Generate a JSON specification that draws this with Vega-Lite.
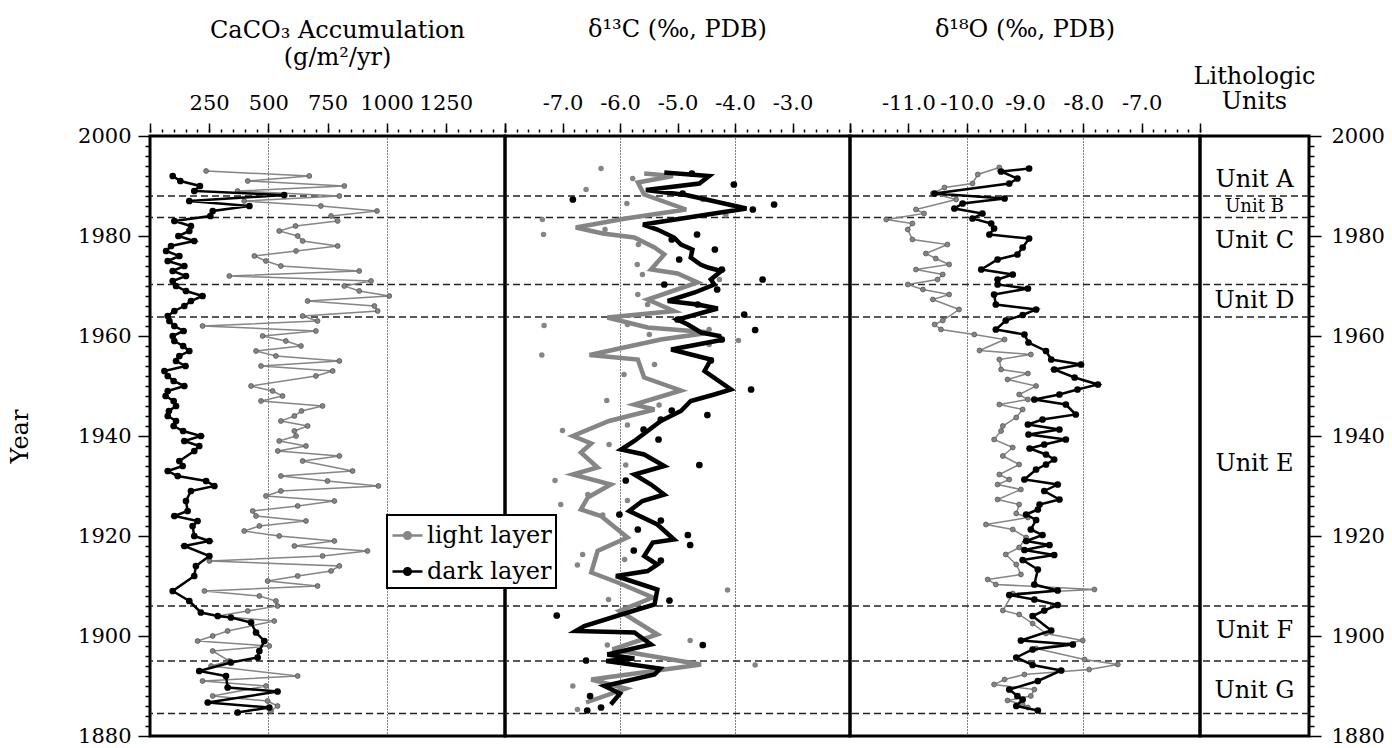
{
  "$schema": "https://vega.github.io/schema/vega-lite/v6.json",
  "padding": {"left": 7, "top": 16, "right": 0, "bottom": 0},
  "spacing": 0,
  "bounds": "flush",
  "background": "white",
  "config": {
    "font": "DejaVu Serif",
    "view": {"stroke": "black", "strokeWidth": 3},
    "axis": {"domain": false, "labelFont": "DejaVu Serif", "labelFontSize": 21, "labelColor": "black", "tickColor": "black", "tickWidth": 1.5, "titleFont": "DejaVu Serif", "titleFontSize": 24, "titleFontWeight": "normal", "titleColor": "black", "labelOverlap": false, "labelBound": false, "labelFlush": false},
    "title": {"font": "DejaVu Serif", "fontSize": 24, "fontWeight": "normal", "color": "black", "anchor": "middle", "frame": "group"},
    "legend": {"fillColor": "white", "strokeColor": "black", "strokeWidth": 2, "padding": 4, "labelFont": "DejaVu Serif", "labelFontSize": 24, "labelColor": "black", "symbolType": "M-1,0L1,0M0.22,0A0.22,0.22,0,1,1,-0.22,0A0.22,0.22,0,1,1,0.22,0Z", "symbolSize": 900, "symbolStrokeWidth": 2.5, "rowPadding": 7, "labelOffset": 3}
  },
  "resolve": {"scale": {"color": "shared"}, "legend": {"color": "shared"}},
  "datasets": {
    "bounds": [{"year": 1988}, {"year": 1983.7}, {"year": 1970.3}, {"year": 1963.8}, {"year": 1906}, {"year": 1895}, {"year": 1884.5}],
    "units": [{"unit": "Unit A", "year": 1991.3}, {"unit": "Unit B", "year": 1985.8}, {"unit": "Unit C", "year": 1979}, {"unit": "Unit D", "year": 1967}, {"unit": "Unit E", "year": 1934.5}, {"unit": "Unit F", "year": 1901}, {"unit": "Unit G", "year": 1889}],
    "caco3": [
      {"year": 1993, "value": 237, "layer": "light layer"}, {"year": 1992, "value": 673, "layer": "light layer"}, {"year": 1991, "value": 413, "layer": "light layer"}, {"year": 1990, "value": 821, "layer": "light layer"}, {"year": 1989, "value": 370, "layer": "light layer"}, {"year": 1988, "value": 800, "layer": "light layer"}, {"year": 1987, "value": 398, "layer": "light layer"}, {"year": 1986, "value": 722, "layer": "light layer"}, {"year": 1985, "value": 959, "layer": "light layer"}, {"year": 1984, "value": 765, "layer": "light layer"}, {"year": 1983, "value": 793, "layer": "light layer"}, {"year": 1982, "value": 615, "layer": "light layer"}, {"year": 1981, "value": 546, "layer": "light layer"}, {"year": 1980, "value": 624, "layer": "light layer"}, {"year": 1979, "value": 645, "layer": "light layer"}, {"year": 1978, "value": 793, "layer": "light layer"}, {"year": 1977, "value": 617, "layer": "light layer"}, {"year": 1976, "value": 441, "layer": "light layer"}, {"year": 1975, "value": 490, "layer": "light layer"}, {"year": 1974, "value": 553, "layer": "light layer"}, {"year": 1973, "value": 884, "layer": "light layer"}, {"year": 1972, "value": 335, "layer": "light layer"}, {"year": 1971, "value": 934, "layer": "light layer"}, {"year": 1970, "value": 821, "layer": "light layer"}, {"year": 1969, "value": 884, "layer": "light layer"}, {"year": 1968, "value": 1011, "layer": "light layer"}, {"year": 1967, "value": 666, "layer": "light layer"}, {"year": 1966, "value": 948, "layer": "light layer"}, {"year": 1965, "value": 962, "layer": "light layer"}, {"year": 1964, "value": 645, "layer": "light layer"}, {"year": 1963, "value": 708, "layer": "light layer"}, {"year": 1962, "value": 222, "layer": "light layer"}, {"year": 1961, "value": 701, "layer": "light layer"}, {"year": 1960, "value": 476, "layer": "light layer"}, {"year": 1959, "value": 574, "layer": "light layer"}, {"year": 1958, "value": 638, "layer": "light layer"}, {"year": 1957, "value": 448, "layer": "light layer"}, {"year": 1956, "value": 532, "layer": "light layer"}, {"year": 1955, "value": 800, "layer": "light layer"}, {"year": 1954, "value": 469, "layer": "light layer"}, {"year": 1953, "value": 772, "layer": "light layer"}, {"year": 1952, "value": 701, "layer": "light layer"}, {"year": 1950, "value": 427, "layer": "light layer"}, {"year": 1949, "value": 518, "layer": "light layer"}, {"year": 1948, "value": 560, "layer": "light layer"}, {"year": 1947, "value": 469, "layer": "light layer"}, {"year": 1946, "value": 729, "layer": "light layer"}, {"year": 1945, "value": 640, "layer": "light layer"}, {"year": 1944, "value": 610, "layer": "light layer"}, {"year": 1943, "value": 553, "layer": "light layer"}, {"year": 1942, "value": 666, "layer": "light layer"}, {"year": 1941, "value": 610, "layer": "light layer"}, {"year": 1940, "value": 617, "layer": "light layer"}, {"year": 1939, "value": 546, "layer": "light layer"}, {"year": 1938, "value": 659, "layer": "light layer"}, {"year": 1937, "value": 540, "layer": "light layer"}, {"year": 1936, "value": 800, "layer": "light layer"}, {"year": 1935, "value": 645, "layer": "light layer"}, {"year": 1933, "value": 856, "layer": "light layer"}, {"year": 1932, "value": 553, "layer": "light layer"}, {"year": 1931, "value": 750, "layer": "light layer"}, {"year": 1930, "value": 965, "layer": "light layer"}, {"year": 1929, "value": 553, "layer": "light layer"}, {"year": 1928, "value": 490, "layer": "light layer"}, {"year": 1927, "value": 779, "layer": "light layer"}, {"year": 1926, "value": 624, "layer": "light layer"}, {"year": 1925, "value": 434, "layer": "light layer"}, {"year": 1924, "value": 448, "layer": "light layer"}, {"year": 1923, "value": 659, "layer": "light layer"}, {"year": 1922, "value": 462, "layer": "light layer"}, {"year": 1921, "value": 398, "layer": "light layer"}, {"year": 1920, "value": 546, "layer": "light layer"}, {"year": 1919, "value": 779, "layer": "light layer"}, {"year": 1918, "value": 610, "layer": "light layer"}, {"year": 1917, "value": 919, "layer": "light layer"}, {"year": 1916, "value": 729, "layer": "light layer"}, {"year": 1915, "value": 251, "layer": "light layer"}, {"year": 1914, "value": 800, "layer": "light layer"}, {"year": 1913, "value": 765, "layer": "light layer"}, {"year": 1912, "value": 624, "layer": "light layer"}, {"year": 1911, "value": 497, "layer": "light layer"}, {"year": 1910, "value": 708, "layer": "light layer"}, {"year": 1909, "value": 230, "layer": "light layer"}, {"year": 1908, "value": 462, "layer": "light layer"}, {"year": 1907, "value": 532, "layer": "light layer"}, {"year": 1906, "value": 539, "layer": "light layer"}, {"year": 1905, "value": 413, "layer": "light layer"}, {"year": 1904, "value": 286, "layer": "light layer"}, {"year": 1903, "value": 525, "layer": "light layer"}, {"year": 1901, "value": 328, "layer": "light layer"}, {"year": 1900, "value": 265, "layer": "light layer"}, {"year": 1899, "value": 201, "layer": "light layer"}, {"year": 1898, "value": 504, "layer": "light layer"}, {"year": 1897, "value": 265, "layer": "light layer"}, {"year": 1895, "value": 335, "layer": "light layer"}, {"year": 1894, "value": 258, "layer": "light layer"}, {"year": 1892, "value": 624, "layer": "light layer"}, {"year": 1891, "value": 222, "layer": "light layer"}, {"year": 1890, "value": 490, "layer": "light layer"}, {"year": 1888, "value": 265, "layer": "light layer"}, {"year": 1887, "value": 497, "layer": "light layer"}, {"year": 1886, "value": 539, "layer": "light layer"}, {"year": 1885, "value": 511, "layer": "light layer"},
      {"year": 1992, "value": 96, "layer": "dark layer"}, {"year": 1991, "value": 128, "layer": "dark layer"}, {"year": 1990, "value": 211, "layer": "dark layer"}, {"year": 1989, "value": 187, "layer": "dark layer"}, {"year": 1988.2, "value": 567, "layer": "dark layer"}, {"year": 1987, "value": 166, "layer": "dark layer"}, {"year": 1986, "value": 420, "layer": "dark layer"}, {"year": 1985, "value": 265, "layer": "dark layer"}, {"year": 1984, "value": 255, "layer": "dark layer"}, {"year": 1983, "value": 103, "layer": "dark layer"}, {"year": 1982, "value": 173, "layer": "dark layer"}, {"year": 1981, "value": 166, "layer": "dark layer"}, {"year": 1980, "value": 120, "layer": "dark layer"}, {"year": 1979, "value": 187, "layer": "dark layer"}, {"year": 1978, "value": 89, "layer": "dark layer"}, {"year": 1977, "value": 68, "layer": "dark layer"}, {"year": 1976, "value": 124, "layer": "dark layer"}, {"year": 1975, "value": 75, "layer": "dark layer"}, {"year": 1974, "value": 145, "layer": "dark layer"}, {"year": 1973, "value": 96, "layer": "dark layer"}, {"year": 1972, "value": 152, "layer": "dark layer"}, {"year": 1971, "value": 96, "layer": "dark layer"}, {"year": 1970, "value": 110, "layer": "dark layer"}, {"year": 1969, "value": 152, "layer": "dark layer"}, {"year": 1968, "value": 222, "layer": "dark layer"}, {"year": 1967, "value": 173, "layer": "dark layer"}, {"year": 1966, "value": 145, "layer": "dark layer"}, {"year": 1965, "value": 103, "layer": "dark layer"}, {"year": 1964, "value": 75, "layer": "dark layer"}, {"year": 1963, "value": 82, "layer": "dark layer"}, {"year": 1962, "value": 103, "layer": "dark layer"}, {"year": 1961, "value": 142, "layer": "dark layer"}, {"year": 1960, "value": 96, "layer": "dark layer"}, {"year": 1959, "value": 103, "layer": "dark layer"}, {"year": 1958, "value": 140, "layer": "dark layer"}, {"year": 1957, "value": 166, "layer": "dark layer"}, {"year": 1956, "value": 124, "layer": "dark layer"}, {"year": 1955, "value": 110, "layer": "dark layer"}, {"year": 1954, "value": 150, "layer": "dark layer"}, {"year": 1953, "value": 61, "layer": "dark layer"}, {"year": 1952, "value": 75, "layer": "dark layer"}, {"year": 1951, "value": 100, "layer": "dark layer"}, {"year": 1950, "value": 145, "layer": "dark layer"}, {"year": 1949, "value": 75, "layer": "dark layer"}, {"year": 1948, "value": 66, "layer": "dark layer"}, {"year": 1947, "value": 100, "layer": "dark layer"}, {"year": 1946, "value": 110, "layer": "dark layer"}, {"year": 1945, "value": 80, "layer": "dark layer"}, {"year": 1944, "value": 75, "layer": "dark layer"}, {"year": 1943, "value": 110, "layer": "dark layer"}, {"year": 1942, "value": 100, "layer": "dark layer"}, {"year": 1941, "value": 140, "layer": "dark layer"}, {"year": 1940, "value": 215, "layer": "dark layer"}, {"year": 1939, "value": 145, "layer": "dark layer"}, {"year": 1938, "value": 208, "layer": "dark layer"}, {"year": 1937, "value": 187, "layer": "dark layer"}, {"year": 1935, "value": 124, "layer": "dark layer"}, {"year": 1934, "value": 138, "layer": "dark layer"}, {"year": 1933, "value": 75, "layer": "dark layer"}, {"year": 1932, "value": 117, "layer": "dark layer"}, {"year": 1931, "value": 237, "layer": "dark layer"}, {"year": 1930, "value": 272, "layer": "dark layer"}, {"year": 1929, "value": 173, "layer": "dark layer"}, {"year": 1927, "value": 152, "layer": "dark layer"}, {"year": 1925, "value": 159, "layer": "dark layer"}, {"year": 1924, "value": 103, "layer": "dark layer"}, {"year": 1923, "value": 201, "layer": "dark layer"}, {"year": 1922, "value": 180, "layer": "dark layer"}, {"year": 1920, "value": 187, "layer": "dark layer"}, {"year": 1919, "value": 251, "layer": "dark layer"}, {"year": 1918, "value": 145, "layer": "dark layer"}, {"year": 1916, "value": 251, "layer": "dark layer"}, {"year": 1914, "value": 194, "layer": "dark layer"}, {"year": 1912, "value": 187, "layer": "dark layer"}, {"year": 1909, "value": 96, "layer": "dark layer"}, {"year": 1907, "value": 166, "layer": "dark layer"}, {"year": 1904.7, "value": 215, "layer": "dark layer"}, {"year": 1904, "value": 286, "layer": "dark layer"}, {"year": 1903.7, "value": 342, "layer": "dark layer"}, {"year": 1902.7, "value": 427, "layer": "dark layer"}, {"year": 1900.7, "value": 448, "layer": "dark layer"}, {"year": 1899, "value": 483, "layer": "dark layer"}, {"year": 1897, "value": 462, "layer": "dark layer"}, {"year": 1895.7, "value": 455, "layer": "dark layer"}, {"year": 1894.7, "value": 342, "layer": "dark layer"}, {"year": 1893, "value": 208, "layer": "dark layer"}, {"year": 1892, "value": 321, "layer": "dark layer"}, {"year": 1889.7, "value": 328, "layer": "dark layer"}, {"year": 1888.9, "value": 539, "layer": "dark layer"}, {"year": 1886.7, "value": 244, "layer": "dark layer"}, {"year": 1885.7, "value": 504, "layer": "dark layer"}, {"year": 1884.7, "value": 370, "layer": "dark layer"}
    ],
    "d13c_line": [
      {"year": 1992.5, "value": -5.58, "layer": "light layer"}, {"year": 1992, "value": -5.08, "layer": "light layer"}, {"year": 1990.7, "value": -5.69, "layer": "light layer"}, {"year": 1988.3, "value": -5.58, "layer": "light layer"}, {"year": 1985.3, "value": -4.85, "layer": "light layer"}, {"year": 1983.5, "value": -5.9, "layer": "light layer"}, {"year": 1981.7, "value": -6.77, "layer": "light layer"}, {"year": 1980.5, "value": -6.3, "layer": "light layer"}, {"year": 1979.7, "value": -5.75, "layer": "light layer"}, {"year": 1977.7, "value": -5.4, "layer": "light layer"}, {"year": 1976.3, "value": -5.23, "layer": "light layer"}, {"year": 1973.3, "value": -5.46, "layer": "light layer"}, {"year": 1972.5, "value": -5.0, "layer": "light layer"}, {"year": 1970.7, "value": -4.65, "layer": "light layer"}, {"year": 1967.3, "value": -5.52, "layer": "light layer"}, {"year": 1965, "value": -5.06, "layer": "light layer"}, {"year": 1963.7, "value": -6.22, "layer": "light layer"}, {"year": 1961.7, "value": -5.52, "layer": "light layer"}, {"year": 1960.7, "value": -4.42, "layer": "light layer"}, {"year": 1959.3, "value": -5.29, "layer": "light layer"}, {"year": 1956.2, "value": -6.53, "layer": "light layer"}, {"year": 1955.3, "value": -5.69, "layer": "light layer"}, {"year": 1951.7, "value": -5.58, "layer": "light layer"}, {"year": 1949.1, "value": -4.94, "layer": "light layer"}, {"year": 1946.3, "value": -5.75, "layer": "light layer"}, {"year": 1945.3, "value": -5.4, "layer": "light layer"}, {"year": 1943, "value": -6.19, "layer": "light layer"}, {"year": 1940, "value": -6.82, "layer": "light layer"}, {"year": 1938.5, "value": -6.5, "layer": "light layer"}, {"year": 1936.7, "value": -6.68, "layer": "light layer"}, {"year": 1933.7, "value": -6.39, "layer": "light layer"}, {"year": 1932.3, "value": -6.82, "layer": "light layer"}, {"year": 1930.3, "value": -6.16, "layer": "light layer"}, {"year": 1927.7, "value": -6.56, "layer": "light layer"}, {"year": 1925.3, "value": -6.68, "layer": "light layer"}, {"year": 1924, "value": -6.33, "layer": "light layer"}, {"year": 1919.7, "value": -5.87, "layer": "light layer"}, {"year": 1917, "value": -6.39, "layer": "light layer"}, {"year": 1912.7, "value": -6.5, "layer": "light layer"}, {"year": 1910.7, "value": -6.04, "layer": "light layer"}, {"year": 1907.7, "value": -5.43, "layer": "light layer"}, {"year": 1905, "value": -6.01, "layer": "light layer"}, {"year": 1900.3, "value": -5.35, "layer": "light layer"}, {"year": 1897.3, "value": -6.13, "layer": "light layer"}, {"year": 1894.3, "value": -4.59, "layer": "light layer"}, {"year": 1891.3, "value": -6.5, "layer": "light layer"}, {"year": 1889.5, "value": -5.9, "layer": "light layer"}, {"year": 1886.7, "value": -6.59, "layer": "light layer"},
      {"year": 1992.7, "value": -5.23, "layer": "dark layer"}, {"year": 1992, "value": -4.45, "layer": "dark layer"}, {"year": 1990.5, "value": -4.62, "layer": "dark layer"}, {"year": 1989.2, "value": -5.55, "layer": "dark layer"}, {"year": 1988.2, "value": -4.85, "layer": "dark layer"}, {"year": 1985.5, "value": -3.8, "layer": "dark layer"}, {"year": 1982.3, "value": -5.6, "layer": "dark layer"}, {"year": 1981.3, "value": -5.35, "layer": "dark layer"}, {"year": 1979.7, "value": -5.06, "layer": "dark layer"}, {"year": 1978.3, "value": -4.94, "layer": "dark layer"}, {"year": 1977.3, "value": -4.74, "layer": "dark layer"}, {"year": 1975.7, "value": -4.77, "layer": "dark layer"}, {"year": 1974.3, "value": -4.6, "layer": "dark layer"}, {"year": 1973.7, "value": -4.47, "layer": "dark layer"}, {"year": 1973, "value": -4.24, "layer": "dark layer"}, {"year": 1971.3, "value": -4.42, "layer": "dark layer"}, {"year": 1970.3, "value": -4.36, "layer": "dark layer"}, {"year": 1968.7, "value": -4.7, "layer": "dark layer"}, {"year": 1967, "value": -5.17, "layer": "dark layer"}, {"year": 1966.3, "value": -4.65, "layer": "dark layer"}, {"year": 1965.5, "value": -4.3, "layer": "dark layer"}, {"year": 1963.3, "value": -5.0, "layer": "dark layer"}, {"year": 1962.3, "value": -4.82, "layer": "dark layer"}, {"year": 1960.7, "value": -4.59, "layer": "dark layer"}, {"year": 1960, "value": -4.27, "layer": "dark layer"}, {"year": 1959.2, "value": -4.24, "layer": "dark layer"}, {"year": 1957.3, "value": -5.11, "layer": "dark layer"}, {"year": 1955.3, "value": -4.42, "layer": "dark layer"}, {"year": 1953, "value": -4.53, "layer": "dark layer"}, {"year": 1949.3, "value": -4.07, "layer": "dark layer"}, {"year": 1948.3, "value": -4.36, "layer": "dark layer"}, {"year": 1947, "value": -4.77, "layer": "dark layer"}, {"year": 1945, "value": -4.94, "layer": "dark layer"}, {"year": 1943, "value": -5.29, "layer": "dark layer"}, {"year": 1941, "value": -5.52, "layer": "dark layer"}, {"year": 1939, "value": -5.75, "layer": "dark layer"}, {"year": 1937.3, "value": -5.98, "layer": "dark layer"}, {"year": 1936.3, "value": -5.58, "layer": "dark layer"}, {"year": 1934, "value": -5.23, "layer": "dark layer"}, {"year": 1932.3, "value": -5.75, "layer": "dark layer"}, {"year": 1930.3, "value": -5.46, "layer": "dark layer"}, {"year": 1928.3, "value": -5.23, "layer": "dark layer"}, {"year": 1927, "value": -5.61, "layer": "dark layer"}, {"year": 1925, "value": -5.84, "layer": "dark layer"}, {"year": 1922.3, "value": -5.35, "layer": "dark layer"}, {"year": 1919.3, "value": -5.06, "layer": "dark layer"}, {"year": 1918.7, "value": -5.43, "layer": "dark layer"}, {"year": 1916, "value": -5.58, "layer": "dark layer"}, {"year": 1914.3, "value": -5.35, "layer": "dark layer"}, {"year": 1913, "value": -5.52, "layer": "dark layer"}, {"year": 1912, "value": -6.07, "layer": "dark layer"}, {"year": 1909.3, "value": -5.35, "layer": "dark layer"}, {"year": 1906.3, "value": -5.4, "layer": "dark layer"}, {"year": 1905, "value": -5.78, "layer": "dark layer"}, {"year": 1902, "value": -6.62, "layer": "dark layer"}, {"year": 1901, "value": -6.77, "layer": "dark layer"}, {"year": 1900.7, "value": -5.75, "layer": "dark layer"}, {"year": 1898.3, "value": -5.46, "layer": "dark layer"}, {"year": 1896.3, "value": -6.22, "layer": "dark layer"}, {"year": 1895.5, "value": -5.75, "layer": "dark layer"}, {"year": 1895, "value": -6.24, "layer": "dark layer"}, {"year": 1893.5, "value": -5.3, "layer": "dark layer"}, {"year": 1892.3, "value": -5.4, "layer": "dark layer"}, {"year": 1890, "value": -6.27, "layer": "dark layer"}, {"year": 1888.5, "value": -6.0, "layer": "dark layer"}, {"year": 1886.3, "value": -6.16, "layer": "dark layer"}
    ],
    "d13c_pts": [
      {"year": 1993.5, "value": -6.33, "layer": "light layer"}, {"year": 1991.5, "value": -5.78, "layer": "light layer"}, {"year": 1989.3, "value": -6.59, "layer": "light layer"}, {"year": 1987.3, "value": -4.56, "layer": "light layer"}, {"year": 1986.5, "value": -5.88, "layer": "light layer"}, {"year": 1984.2, "value": -4.16, "layer": "light layer"}, {"year": 1983.3, "value": -7.35, "layer": "light layer"}, {"year": 1981.3, "value": -6.26, "layer": "light layer"}, {"year": 1980.3, "value": -7.33, "layer": "light layer"}, {"year": 1978.3, "value": -5.68, "layer": "light layer"}, {"year": 1974.3, "value": -5.7, "layer": "light layer"}, {"year": 1972.3, "value": -5.61, "layer": "light layer"}, {"year": 1971.3, "value": -4.27, "layer": "light layer"}, {"year": 1968.3, "value": -5.69, "layer": "light layer"}, {"year": 1966.3, "value": -5.52, "layer": "light layer"}, {"year": 1962.3, "value": -5.87, "layer": "light layer"}, {"year": 1962.1, "value": -7.32, "layer": "light layer"}, {"year": 1961.3, "value": -4.45, "layer": "light layer"}, {"year": 1960.3, "value": -5.49, "layer": "light layer"}, {"year": 1959.1, "value": -3.94, "layer": "light layer"}, {"year": 1958.3, "value": -4.45, "layer": "light layer"}, {"year": 1956.2, "value": -7.36, "layer": "light layer"}, {"year": 1954.3, "value": -5.4, "layer": "light layer"}, {"year": 1952.3, "value": -5.93, "layer": "light layer"}, {"year": 1947.1, "value": -6.23, "layer": "light layer"}, {"year": 1946.2, "value": -5.32, "layer": "light layer"}, {"year": 1942.2, "value": -5.87, "layer": "light layer"}, {"year": 1941.1, "value": -7.0, "layer": "light layer"}, {"year": 1938.3, "value": -6.19, "layer": "light layer"}, {"year": 1934.2, "value": -5.9, "layer": "light layer"}, {"year": 1931.1, "value": -7.13, "layer": "light layer"}, {"year": 1928.3, "value": -6.56, "layer": "light layer"}, {"year": 1927.1, "value": -5.87, "layer": "light layer"}, {"year": 1926.3, "value": -7.03, "layer": "light layer"}, {"year": 1924.2, "value": -6.3, "layer": "light layer"}, {"year": 1916.3, "value": -6.65, "layer": "light layer"}, {"year": 1915.3, "value": -5.92, "layer": "light layer"}, {"year": 1914.2, "value": -6.74, "layer": "light layer"}, {"year": 1909.2, "value": -4.13, "layer": "light layer"}, {"year": 1907.3, "value": -6.2, "layer": "light layer"}, {"year": 1899.1, "value": -4.78, "layer": "light layer"}, {"year": 1898.2, "value": -6.22, "layer": "light layer"}, {"year": 1894.2, "value": -3.65, "layer": "light layer"}, {"year": 1890, "value": -6.82, "layer": "light layer"}, {"year": 1889.3, "value": -5.98, "layer": "light layer"}, {"year": 1885.3, "value": -6.74, "layer": "light layer"},
      {"year": 1992.5, "value": -4.75, "layer": "dark layer"}, {"year": 1990.3, "value": -4.02, "layer": "dark layer"}, {"year": 1988.5, "value": -4.91, "layer": "dark layer"}, {"year": 1987.3, "value": -6.82, "layer": "dark layer"}, {"year": 1986.3, "value": -3.32, "layer": "dark layer"}, {"year": 1985.3, "value": -3.69, "layer": "dark layer"}, {"year": 1980.3, "value": -4.66, "layer": "dark layer"}, {"year": 1979.3, "value": -5.1, "layer": "dark layer"}, {"year": 1977.3, "value": -4.35, "layer": "dark layer"}, {"year": 1975.3, "value": -4.97, "layer": "dark layer"}, {"year": 1973.3, "value": -4.23, "layer": "dark layer"}, {"year": 1971.3, "value": -3.52, "layer": "dark layer"}, {"year": 1970.3, "value": -5.23, "layer": "dark layer"}, {"year": 1969.3, "value": -4.31, "layer": "dark layer"}, {"year": 1966.3, "value": -4.65, "layer": "dark layer"}, {"year": 1964.3, "value": -3.84, "layer": "dark layer"}, {"year": 1963.3, "value": -5.0, "layer": "dark layer"}, {"year": 1961.2, "value": -3.65, "layer": "dark layer"}, {"year": 1959.3, "value": -4.23, "layer": "dark layer"}, {"year": 1955.1, "value": -4.42, "layer": "dark layer"}, {"year": 1949.3, "value": -3.72, "layer": "dark layer"}, {"year": 1945.1, "value": -5.1, "layer": "dark layer"}, {"year": 1944.2, "value": -4.48, "layer": "dark layer"}, {"year": 1943.3, "value": -5.29, "layer": "dark layer"}, {"year": 1941.3, "value": -5.59, "layer": "dark layer"}, {"year": 1939.3, "value": -5.33, "layer": "dark layer"}, {"year": 1934.2, "value": -4.62, "layer": "dark layer"}, {"year": 1931.1, "value": -5.9, "layer": "dark layer"}, {"year": 1924.3, "value": -6.01, "layer": "dark layer"}, {"year": 1923.1, "value": -5.29, "layer": "dark layer"}, {"year": 1921.3, "value": -5.69, "layer": "dark layer"}, {"year": 1920.2, "value": -4.82, "layer": "dark layer"}, {"year": 1918.2, "value": -4.78, "layer": "dark layer"}, {"year": 1917.1, "value": -5.76, "layer": "dark layer"}, {"year": 1915.1, "value": -5.29, "layer": "dark layer"}, {"year": 1907.1, "value": -5.14, "layer": "dark layer"}, {"year": 1904.1, "value": -7.1, "layer": "dark layer"}, {"year": 1898.2, "value": -4.56, "layer": "dark layer"}, {"year": 1895.1, "value": -6.59, "layer": "dark layer"}, {"year": 1888, "value": -6.52, "layer": "dark layer"}, {"year": 1885.7, "value": -6.33, "layer": "dark layer"}, {"year": 1885.1, "value": -6.57, "layer": "dark layer"}
    ],
    "d18o": [
      {"year": 1993.7, "value": -9.44, "layer": "light layer"}, {"year": 1992.3, "value": -9.81, "layer": "light layer"}, {"year": 1990.5, "value": -9.9, "layer": "light layer"}, {"year": 1989.7, "value": -10.38, "layer": "light layer"}, {"year": 1988.5, "value": -10.58, "layer": "light layer"}, {"year": 1987.3, "value": -10.18, "layer": "light layer"}, {"year": 1985.3, "value": -10.87, "layer": "light layer"}, {"year": 1984.5, "value": -10.73, "layer": "light layer"}, {"year": 1983.3, "value": -11.38, "layer": "light layer"}, {"year": 1982.5, "value": -10.93, "layer": "light layer"}, {"year": 1981.3, "value": -11.01, "layer": "light layer"}, {"year": 1979.3, "value": -10.93, "layer": "light layer"}, {"year": 1978.3, "value": -10.33, "layer": "light layer"}, {"year": 1976.5, "value": -10.7, "layer": "light layer"}, {"year": 1975.5, "value": -10.53, "layer": "light layer"}, {"year": 1974.3, "value": -10.3, "layer": "light layer"}, {"year": 1973.3, "value": -10.87, "layer": "light layer"}, {"year": 1972.3, "value": -10.41, "layer": "light layer"}, {"year": 1971.3, "value": -10.5, "layer": "light layer"}, {"year": 1970.3, "value": -11.01, "layer": "light layer"}, {"year": 1969.3, "value": -10.75, "layer": "light layer"}, {"year": 1968.3, "value": -10.3, "layer": "light layer"}, {"year": 1967.3, "value": -10.58, "layer": "light layer"}, {"year": 1965.3, "value": -10.13, "layer": "light layer"}, {"year": 1963.1, "value": -10.41, "layer": "light layer"}, {"year": 1962.3, "value": -10.55, "layer": "light layer"}, {"year": 1961.3, "value": -10.44, "layer": "light layer"}, {"year": 1960.3, "value": -9.87, "layer": "light layer"}, {"year": 1959.3, "value": -9.35, "layer": "light layer"}, {"year": 1957.1, "value": -9.78, "layer": "light layer"}, {"year": 1956.3, "value": -8.9, "layer": "light layer"}, {"year": 1955.3, "value": -9.44, "layer": "light layer"}, {"year": 1953.3, "value": -9.41, "layer": "light layer"}, {"year": 1952.5, "value": -8.95, "layer": "light layer"}, {"year": 1951.3, "value": -9.3, "layer": "light layer"}, {"year": 1950, "value": -8.81, "layer": "light layer"}, {"year": 1948.3, "value": -9.1, "layer": "light layer"}, {"year": 1947.3, "value": -8.95, "layer": "light layer"}, {"year": 1946.3, "value": -9.44, "layer": "light layer"}, {"year": 1945.3, "value": -9.04, "layer": "light layer"}, {"year": 1943.7, "value": -9.15, "layer": "light layer"}, {"year": 1942, "value": -9.38, "layer": "light layer"}, {"year": 1941, "value": -9.41, "layer": "light layer"}, {"year": 1939.3, "value": -9.53, "layer": "light layer"}, {"year": 1937.7, "value": -9.21, "layer": "light layer"}, {"year": 1936, "value": -9.38, "layer": "light layer"}, {"year": 1934.3, "value": -9.1, "layer": "light layer"}, {"year": 1932.3, "value": -9.44, "layer": "light layer"}, {"year": 1931.3, "value": -9.27, "layer": "light layer"}, {"year": 1930.3, "value": -9.47, "layer": "light layer"}, {"year": 1929.3, "value": -9.07, "layer": "light layer"}, {"year": 1927.3, "value": -9.47, "layer": "light layer"}, {"year": 1926.3, "value": -9.1, "layer": "light layer"}, {"year": 1924.5, "value": -9.15, "layer": "light layer"}, {"year": 1923.7, "value": -8.95, "layer": "light layer"}, {"year": 1922.3, "value": -9.67, "layer": "light layer"}, {"year": 1921.3, "value": -9.21, "layer": "light layer"}, {"year": 1919.7, "value": -8.98, "layer": "light layer"}, {"year": 1917.7, "value": -9.1, "layer": "light layer"}, {"year": 1916.3, "value": -9.33, "layer": "light layer"}, {"year": 1914.3, "value": -9.15, "layer": "light layer"}, {"year": 1912.3, "value": -9.07, "layer": "light layer"}, {"year": 1911.3, "value": -9.64, "layer": "light layer"}, {"year": 1910.3, "value": -9.5, "layer": "light layer"}, {"year": 1909.3, "value": -7.81, "layer": "light layer"}, {"year": 1908.5, "value": -9.21, "layer": "light layer"}, {"year": 1905.1, "value": -9.38, "layer": "light layer"}, {"year": 1904.3, "value": -9.1, "layer": "light layer"}, {"year": 1902.5, "value": -8.87, "layer": "light layer"}, {"year": 1900.5, "value": -8.64, "layer": "light layer"}, {"year": 1899.1, "value": -8.01, "layer": "light layer"}, {"year": 1897.5, "value": -8.81, "layer": "light layer"}, {"year": 1895.3, "value": -7.98, "layer": "light layer"}, {"year": 1894.3, "value": -7.41, "layer": "light layer"}, {"year": 1893.3, "value": -7.9, "layer": "light layer"}, {"year": 1892.3, "value": -9.01, "layer": "light layer"}, {"year": 1891.3, "value": -9.35, "layer": "light layer"}, {"year": 1890.3, "value": -9.53, "layer": "light layer"}, {"year": 1889.3, "value": -8.84, "layer": "light layer"}, {"year": 1888, "value": -8.9, "layer": "light layer"}, {"year": 1887.1, "value": -9.3, "layer": "light layer"}, {"year": 1886.3, "value": -9.04, "layer": "light layer"}, {"year": 1885.7, "value": -8.95, "layer": "light layer"},
      {"year": 1993.5, "value": -8.93, "layer": "dark layer"}, {"year": 1992.9, "value": -9.41, "layer": "dark layer"}, {"year": 1991.5, "value": -9.13, "layer": "dark layer"}, {"year": 1990.5, "value": -9.27, "layer": "dark layer"}, {"year": 1988.5, "value": -10.55, "layer": "dark layer"}, {"year": 1987.5, "value": -9.35, "layer": "dark layer"}, {"year": 1986.5, "value": -10.07, "layer": "dark layer"}, {"year": 1985.5, "value": -10.21, "layer": "dark layer"}, {"year": 1984.5, "value": -9.73, "layer": "dark layer"}, {"year": 1983.5, "value": -9.9, "layer": "dark layer"}, {"year": 1982.5, "value": -9.58, "layer": "dark layer"}, {"year": 1981.5, "value": -9.53, "layer": "dark layer"}, {"year": 1980.3, "value": -9.61, "layer": "dark layer"}, {"year": 1979.5, "value": -8.93, "layer": "dark layer"}, {"year": 1977.7, "value": -9.04, "layer": "dark layer"}, {"year": 1976.3, "value": -9.13, "layer": "dark layer"}, {"year": 1975.3, "value": -9.47, "layer": "dark layer"}, {"year": 1973.3, "value": -9.75, "layer": "dark layer"}, {"year": 1972.3, "value": -9.21, "layer": "dark layer"}, {"year": 1971.3, "value": -9.47, "layer": "dark layer"}, {"year": 1970.3, "value": -9.47, "layer": "dark layer"}, {"year": 1969.5, "value": -8.95, "layer": "dark layer"}, {"year": 1968.3, "value": -9.53, "layer": "dark layer"}, {"year": 1966.3, "value": -9.5, "layer": "dark layer"}, {"year": 1965.3, "value": -8.81, "layer": "dark layer"}, {"year": 1964.2, "value": -9.04, "layer": "dark layer"}, {"year": 1963.1, "value": -9.33, "layer": "dark layer"}, {"year": 1961.3, "value": -9.5, "layer": "dark layer"}, {"year": 1960.3, "value": -9.01, "layer": "dark layer"}, {"year": 1958.7, "value": -8.94, "layer": "dark layer"}, {"year": 1957, "value": -8.64, "layer": "dark layer"}, {"year": 1955.3, "value": -8.55, "layer": "dark layer"}, {"year": 1954.3, "value": -8.04, "layer": "dark layer"}, {"year": 1953.3, "value": -8.5, "layer": "dark layer"}, {"year": 1951.7, "value": -8.15, "layer": "dark layer"}, {"year": 1950.3, "value": -7.75, "layer": "dark layer"}, {"year": 1949.3, "value": -8.1, "layer": "dark layer"}, {"year": 1948.3, "value": -8.41, "layer": "dark layer"}, {"year": 1947.3, "value": -8.84, "layer": "dark layer"}, {"year": 1946.3, "value": -8.3, "layer": "dark layer"}, {"year": 1944.3, "value": -8.13, "layer": "dark layer"}, {"year": 1943.3, "value": -8.7, "layer": "dark layer"}, {"year": 1942.3, "value": -8.95, "layer": "dark layer"}, {"year": 1941.3, "value": -8.41, "layer": "dark layer"}, {"year": 1940.3, "value": -8.94, "layer": "dark layer"}, {"year": 1939.3, "value": -8.3, "layer": "dark layer"}, {"year": 1938.3, "value": -8.67, "layer": "dark layer"}, {"year": 1937.5, "value": -8.92, "layer": "dark layer"}, {"year": 1936.3, "value": -8.64, "layer": "dark layer"}, {"year": 1935.3, "value": -8.5, "layer": "dark layer"}, {"year": 1934.3, "value": -8.64, "layer": "dark layer"}, {"year": 1933.3, "value": -8.81, "layer": "dark layer"}, {"year": 1931.3, "value": -9.01, "layer": "dark layer"}, {"year": 1930.3, "value": -8.44, "layer": "dark layer"}, {"year": 1929, "value": -8.67, "layer": "dark layer"}, {"year": 1927.3, "value": -8.41, "layer": "dark layer"}, {"year": 1926.3, "value": -8.75, "layer": "dark layer"}, {"year": 1925.3, "value": -8.78, "layer": "dark layer"}, {"year": 1924.3, "value": -8.98, "layer": "dark layer"}, {"year": 1923.2, "value": -8.81, "layer": "dark layer"}, {"year": 1921.3, "value": -8.9, "layer": "dark layer"}, {"year": 1920.2, "value": -8.7, "layer": "dark layer"}, {"year": 1919, "value": -8.98, "layer": "dark layer"}, {"year": 1918.2, "value": -8.58, "layer": "dark layer"}, {"year": 1917.2, "value": -9.01, "layer": "dark layer"}, {"year": 1916.2, "value": -8.5, "layer": "dark layer"}, {"year": 1915.2, "value": -9.04, "layer": "dark layer"}, {"year": 1913.3, "value": -8.78, "layer": "dark layer"}, {"year": 1910.3, "value": -8.84, "layer": "dark layer"}, {"year": 1909.1, "value": -8.44, "layer": "dark layer"}, {"year": 1908.2, "value": -9.27, "layer": "dark layer"}, {"year": 1907.3, "value": -8.84, "layer": "dark layer"}, {"year": 1906.2, "value": -8.44, "layer": "dark layer"}, {"year": 1905.1, "value": -8.67, "layer": "dark layer"}, {"year": 1904, "value": -8.87, "layer": "dark layer"}, {"year": 1901.1, "value": -8.55, "layer": "dark layer"}, {"year": 1899.1, "value": -9.07, "layer": "dark layer"}, {"year": 1898.3, "value": -8.18, "layer": "dark layer"}, {"year": 1897.3, "value": -8.87, "layer": "dark layer"}, {"year": 1895.7, "value": -9.15, "layer": "dark layer"}, {"year": 1894.2, "value": -8.87, "layer": "dark layer"}, {"year": 1893.1, "value": -8.38, "layer": "dark layer"}, {"year": 1891, "value": -8.78, "layer": "dark layer"}, {"year": 1889.3, "value": -9.27, "layer": "dark layer"}, {"year": 1888, "value": -9.13, "layer": "dark layer"}, {"year": 1887.3, "value": -9.04, "layer": "dark layer"}, {"year": 1886, "value": -9.15, "layer": "dark layer"}, {"year": 1885.1, "value": -8.78, "layer": "dark layer"}
    ]
  },
  "hconcat": [
    {
      "width": 355, "height": 600,
      "title": {"text": ["CaCO₃ Accumulation", "(g/m²/yr)"], "baseline": "alphabetic", "offset": 3, "lineHeight": 27, "dx": 10},
      "resolve": {"axis": {"x": "independent"}},
      "encoding": {
        "y": {"field": "year", "type": "quantitative", "title": "Year", "scale": {"domain": [1880, 2000], "nice": false, "zero": false},
          "axis": {"orient": "left", "grid": false, "format": "d", "values": [1880,1882,1884,1886,1888,1890,1892,1894,1896,1898,1900,1902,1904,1906,1908,1910,1912,1914,1916,1918,1920,1922,1924,1926,1928,1930,1932,1934,1936,1938,1940,1942,1944,1946,1948,1950,1952,1954,1956,1958,1960,1962,1964,1966,1968,1970,1972,1974,1976,1978,1980,1982,1984,1986,1988,1990,1992,1994,1996,1998,2000],
            "tickSize": {"condition": {"test": "datum.value % 20 === 0", "value": 12}, "value": 5},
            "labelExpr": "datum.value % 20 === 0 ? datum.label : ''", "labelPadding": 7, "titlePadding": 45}}
      },
      "layer": [
        {"data": {"name": "bounds"}, "mark": {"type": "rule", "strokeDash": [7, 4], "strokeWidth": 1.5, "color": "#222222"}, "encoding": {}},
        {"data": {"name": "caco3"}, "mark": {"type": "circle", "opacity": 0, "size": 1},
          "encoding": {"x": {"field": "value", "type": "quantitative", "title": null, "scale": {"domain": [0, 1500], "nice": false, "zero": false},
            "axis": {"orient": "top", "values": [500, 1000], "grid": true, "gridColor": "black", "gridWidth": 1, "gridDash": [1, 2], "ticks": false, "labels": false}}}},
        {"data": {"name": "caco3"}, "mark": {"type": "circle", "opacity": 0, "size": 1},
          "encoding": {"x": {"field": "value", "type": "quantitative", "title": null, "scale": {"domain": [0, 1500], "nice": false, "zero": false},
            "axis": {"orient": "top", "offset": 4, "values": [0,50,100,150,200,250,300,350,400,450,500,550,600,650,700,750,800,850,900,950,1000,1050,1100,1150,1200,1250,1300,1350,1400,1450,1500], "grid": false, "ticks": true, "tickSize": 3, "labels": false, "tickColor": "black", "tickOpacity": 1, "tickWidth": 1.5}}}},
        {
          "encoding": {
            "x": {"field": "value", "type": "quantitative", "title": null, "scale": {"domain": [0, 1500], "nice": false, "zero": false},
              "axis": {"orient": "top", "offset": 4, "format": "d", "values": [0, 250, 500, 750, 1000, 1250, 1500], "grid": false, "ticks": true, "tickSize": 9, "labelPadding": 10, "tickColor": "black", "tickOpacity": 1, "tickWidth": 1.5,
                "labelExpr": "datum.value > 0 && datum.value < 1500 ? datum.label : ''"}},
            "color": {"field": "layer", "type": "nominal", "title": null, "scale": {"domain": ["light layer", "dark layer"], "range": ["#858585", "#000000"]}, "legend": {"orient": "none", "legendX": 237, "legendY": 379}}
          },
          "layer": [
            {"data": {"name": "caco3"}, "transform": [{"filter": "datum.layer === 'light layer'"}],
              "mark": {"type": "line", "strokeWidth": 1.5},
              "encoding": {"order": {"field": "year", "type": "quantitative"}}},
            {"data": {"name": "caco3"}, "transform": [{"filter": "datum.layer === 'light layer'"}],
              "mark": {"type": "circle", "size": 24, "opacity": 1, "stroke": "#555555", "strokeWidth": 0.8},
              "encoding": {}},
            {"data": {"name": "caco3"}, "transform": [{"filter": "datum.layer === 'dark layer'"}],
              "mark": {"type": "line", "strokeWidth": 2.5},
              "encoding": {"order": {"field": "year", "type": "quantitative"}}},
            {"data": {"name": "caco3"}, "transform": [{"filter": "datum.layer === 'dark layer'"}],
              "mark": {"type": "circle", "size": 45, "opacity": 1},
              "encoding": {}}
          ]
        }
      ]
    },
    {
      "width": 345, "height": 600,
      "title": {"text": "δ¹³C (‰, PDB)", "baseline": "alphabetic", "offset": 31},
      "resolve": {"axis": {"x": "independent"}},
      "encoding": {
        "y": {"field": "year", "type": "quantitative", "scale": {"domain": [1880, 2000], "nice": false, "zero": false}, "axis": null}
      },
      "layer": [
        {"data": {"name": "bounds"}, "mark": {"type": "rule", "strokeDash": [7, 4], "strokeWidth": 1.5, "color": "#222222"}, "encoding": {}},
        {"data": {"name": "d13c_line"}, "mark": {"type": "circle", "opacity": 0, "size": 1},
          "encoding": {"x": {"field": "value", "type": "quantitative", "title": null, "scale": {"domain": [-8, -2], "nice": false, "zero": false},
            "axis": {"orient": "top", "values": [-6, -4], "grid": true, "gridColor": "black", "gridWidth": 1, "gridDash": [1, 2], "ticks": false, "labels": false}}}},
        {"data": {"name": "d13c_line"}, "mark": {"type": "circle", "opacity": 0, "size": 1},
          "encoding": {"x": {"field": "value", "type": "quantitative", "title": null, "scale": {"domain": [-8, -2], "nice": false, "zero": false},
            "axis": {"orient": "top", "offset": 4, "values": [-8,-7.8,-7.6,-7.4,-7.2,-7,-6.8,-6.6,-6.4,-6.2,-6,-5.8,-5.6,-5.4,-5.2,-5,-4.8,-4.6,-4.4,-4.2,-4,-3.8,-3.6,-3.4,-3.2,-3,-2.8,-2.6,-2.4,-2.2,-2], "grid": false, "ticks": true, "tickSize": 3, "labels": false, "tickColor": "black", "tickOpacity": 1, "tickWidth": 1.5}}}},
        {
          "encoding": {
            "x": {"field": "value", "type": "quantitative", "title": null, "scale": {"domain": [-8, -2], "nice": false, "zero": false},
              "axis": {"orient": "top", "offset": 4, "format": ".1f", "values": [-8, -7, -6, -5, -4, -3, -2], "grid": false, "ticks": true, "tickSize": 9, "labelPadding": 10, "tickColor": "black", "tickOpacity": 1, "tickWidth": 1.5,
                "labelExpr": "datum.value > -7.5 && datum.value < -2.5 ? replace(datum.label, '\u2212', '-') : ''"}},
            "color": {"field": "layer", "type": "nominal", "title": null, "scale": {"domain": ["light layer", "dark layer"], "range": ["#858585", "#000000"]}, "legend": {"orient": "none", "legendX": 237, "legendY": 379}}
          },
          "layer": [
            {"data": {"name": "d13c_line"}, "transform": [{"filter": "datum.layer === 'light layer'"}],
              "mark": {"type": "line", "strokeWidth": 4.5},
              "encoding": {"order": {"field": "year", "type": "quantitative"}}},
            {"data": {"name": "d13c_pts"}, "transform": [{"filter": "datum.layer === 'light layer'"}],
              "mark": {"type": "circle", "size": 30, "opacity": 1},
              "encoding": {}},
            {"data": {"name": "d13c_line"}, "transform": [{"filter": "datum.layer === 'dark layer'"}],
              "mark": {"type": "line", "strokeWidth": 4.5},
              "encoding": {"order": {"field": "year", "type": "quantitative"}}},
            {"data": {"name": "d13c_pts"}, "transform": [{"filter": "datum.layer === 'dark layer'"}],
              "mark": {"type": "circle", "size": 45, "opacity": 1},
              "encoding": {}}
          ]
        }
      ]
    },
    {
      "width": 350, "height": 600,
      "title": {"text": "δ¹⁸O  (‰, PDB)", "baseline": "alphabetic", "offset": 31},
      "resolve": {"axis": {"x": "independent"}},
      "encoding": {
        "y": {"field": "year", "type": "quantitative", "scale": {"domain": [1880, 2000], "nice": false, "zero": false}, "axis": null}
      },
      "layer": [
        {"data": {"name": "bounds"}, "mark": {"type": "rule", "strokeDash": [7, 4], "strokeWidth": 1.5, "color": "#222222"}, "encoding": {}},
        {"data": {"name": "d18o"}, "mark": {"type": "circle", "opacity": 0, "size": 1},
          "encoding": {"x": {"field": "value", "type": "quantitative", "title": null, "scale": {"domain": [-12, -6], "nice": false, "zero": false},
            "axis": {"orient": "top", "values": [-10, -8], "grid": true, "gridColor": "black", "gridWidth": 1, "gridDash": [1, 2], "ticks": false, "labels": false}}}},
        {"data": {"name": "d18o"}, "mark": {"type": "circle", "opacity": 0, "size": 1},
          "encoding": {"x": {"field": "value", "type": "quantitative", "title": null, "scale": {"domain": [-12, -6], "nice": false, "zero": false},
            "axis": {"orient": "top", "offset": 4, "values": [-12,-11.8,-11.6,-11.4,-11.2,-11,-10.8,-10.6,-10.4,-10.2,-10,-9.8,-9.6,-9.4,-9.2,-9,-8.8,-8.6,-8.4,-8.2,-8,-7.8,-7.6,-7.4,-7.2,-7,-6.8,-6.6,-6.4,-6.2,-6], "grid": false, "ticks": true, "tickSize": 3, "labels": false, "tickColor": "black", "tickOpacity": 1, "tickWidth": 1.5}}}},
        {
          "encoding": {
            "x": {"field": "value", "type": "quantitative", "title": null, "scale": {"domain": [-12, -6], "nice": false, "zero": false},
              "axis": {"orient": "top", "offset": 4, "format": ".1f", "values": [-12, -11, -10, -9, -8, -7, -6], "grid": false, "ticks": true, "tickSize": 9, "labelPadding": 10, "tickColor": "black", "tickOpacity": 1, "tickWidth": 1.5,
                "labelExpr": "datum.value > -11.5 && datum.value < -6.5 ? replace(datum.label, '\u2212', '-') : ''"}},
            "color": {"field": "layer", "type": "nominal", "title": null, "scale": {"domain": ["light layer", "dark layer"], "range": ["#858585", "#000000"]}, "legend": {"orient": "none", "legendX": 237, "legendY": 379}}
          },
          "layer": [
            {"data": {"name": "d18o"}, "transform": [{"filter": "datum.layer === 'light layer'"}],
              "mark": {"type": "line", "strokeWidth": 1.5},
              "encoding": {"order": {"field": "year", "type": "quantitative"}}},
            {"data": {"name": "d18o"}, "transform": [{"filter": "datum.layer === 'light layer'"}],
              "mark": {"type": "circle", "size": 24, "opacity": 1, "stroke": "#555555", "strokeWidth": 0.8},
              "encoding": {}},
            {"data": {"name": "d18o"}, "transform": [{"filter": "datum.layer === 'dark layer'"}],
              "mark": {"type": "line", "strokeWidth": 2.5},
              "encoding": {"order": {"field": "year", "type": "quantitative"}}},
            {"data": {"name": "d18o"}, "transform": [{"filter": "datum.layer === 'dark layer'"}],
              "mark": {"type": "circle", "size": 45, "opacity": 1},
              "encoding": {}}
          ]
        }
      ]
    },
    {
      "width": 109, "height": 600,
      "title": {"text": ["Lithologic", "Units"], "baseline": "alphabetic", "offset": -8, "lineHeight": 25},
      "encoding": {
        "y": {"field": "year", "type": "quantitative", "title": null, "scale": {"domain": [1880, 2000], "nice": false, "zero": false},
          "axis": {"orient": "right", "grid": false, "format": "d", "values": [1880,1882,1884,1886,1888,1890,1892,1894,1896,1898,1900,1902,1904,1906,1908,1910,1912,1914,1916,1918,1920,1922,1924,1926,1928,1930,1932,1934,1936,1938,1940,1942,1944,1946,1948,1950,1952,1954,1956,1958,1960,1962,1964,1966,1968,1970,1972,1974,1976,1978,1980,1982,1984,1986,1988,1990,1992,1994,1996,1998,2000],
            "tickSize": {"condition": {"test": "datum.value % 20 === 0", "value": 12}, "value": 5},
            "labelExpr": "datum.value % 20 === 0 ? datum.label : ''", "labelPadding": 10}}
      },
      "layer": [
        {"data": {"name": "bounds"}, "mark": {"type": "rule", "strokeDash": [7, 4], "strokeWidth": 1.5, "color": "#222222"}, "encoding": {}},
        {"data": {"name": "units"}, "mark": {"type": "text", "font": "DejaVu Serif", "baseline": "middle", "align": "center", "color": "black"},
          "encoding": {
            "text": {"field": "unit"},
            "size": {"condition": {"test": "datum.unit === 'Unit B'", "value": 18}, "value": 24}
          }}
      ]
    }
  ]
}
